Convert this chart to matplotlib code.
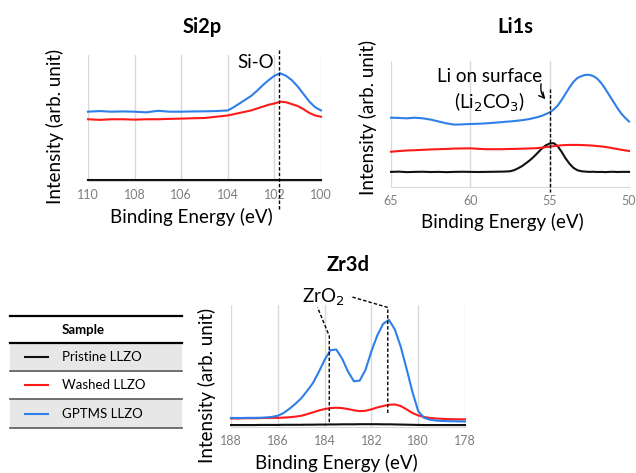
import matplotlib
matplotlib.use('Agg')
import matplotlib.pyplot as plt
from matplotlib.patches import Rectangle

plt.rcParams['font.family'] = ['Lato', 'DejaVu Sans']

samples = ['Pristine LLZO', 'Washed LLZO', 'GPTMS LLZO']
colors = ['#111111', '#ff1a1a', '#2f7fe8']

# Si2p
si_energy = [110, 109.5, 109, 108.5, 108, 107.5, 107, 106.5, 106, 105.5, 105, 104.5,
             104, 103.75, 103.5, 103.25, 103, 102.75, 102.5, 102.25, 102, 101.75, 101.5,
             101.25, 101, 100.75, 100.5, 100.25, 100]
si_pristine = [0.005] * 29
si_washed = [0.49, 0.485, 0.49, 0.49, 0.487, 0.49, 0.49, 0.493, 0.495, 0.498, 0.50, 0.51,
             0.52, 0.53, 0.54, 0.55, 0.56, 0.575, 0.59, 0.605, 0.615, 0.63, 0.625, 0.61,
             0.595, 0.57, 0.54, 0.52, 0.51]
si_gptms = [0.55, 0.555, 0.55, 0.552, 0.55, 0.545, 0.557, 0.55, 0.55, 0.552, 0.553, 0.555,
            0.56, 0.585, 0.615, 0.645, 0.675, 0.715, 0.76, 0.80, 0.835, 0.855, 0.835, 0.80,
            0.75, 0.69, 0.63, 0.585, 0.56]

# Li1s
li_energy = [65, 64.5, 64, 63.5, 63, 62.5, 62, 61.5, 61, 60.5, 60, 59.5, 59, 58.5,
             58, 57.75, 57.5, 57.25, 57, 56.75, 56.5, 56.25, 56, 55.75, 55.5, 55.25, 55,
             54.75, 54.5, 54.25, 54, 53.75, 53.5, 53.25, 53, 52.75, 52.5, 52.25, 52, 51.75,
             51.5, 51.25, 51, 50.75, 50.5, 50.25, 50]
li_pristine = [0.12, 0.122, 0.118, 0.12, 0.121, 0.119, 0.12, 0.118, 0.12, 0.121, 0.12, 0.119,
               0.12, 0.121,
               0.122, 0.123, 0.125, 0.133, 0.148, 0.165, 0.188, 0.212, 0.24, 0.272, 0.305,
               0.33, 0.345, 0.348, 0.325, 0.28, 0.228, 0.185, 0.152, 0.133, 0.125, 0.122,
               0.12, 0.121, 0.119, 0.12, 0.118, 0.12, 0.121, 0.119, 0.12, 0.12, 0.12]
li_washed = [0.28, 0.285, 0.29, 0.292, 0.295, 0.298, 0.30, 0.302, 0.305, 0.306, 0.307, 0.303,
             0.30, 0.30,
             0.30, 0.301, 0.302, 0.302, 0.303, 0.304, 0.305, 0.306, 0.307, 0.309, 0.312,
             0.316, 0.32, 0.324, 0.328, 0.331, 0.333, 0.334, 0.334, 0.334, 0.333, 0.332,
             0.33, 0.328, 0.325, 0.322, 0.318, 0.313, 0.307, 0.302, 0.296, 0.291, 0.286]
li_gptms = [0.55, 0.548, 0.545, 0.55, 0.545, 0.535, 0.52, 0.505, 0.495, 0.497, 0.50, 0.502,
            0.505, 0.51,
            0.515, 0.518, 0.52, 0.523, 0.527, 0.53, 0.535, 0.54, 0.548, 0.555, 0.565, 0.578,
            0.592, 0.615, 0.645, 0.69, 0.74, 0.79, 0.835, 0.865, 0.88, 0.89, 0.89, 0.88,
            0.86, 0.825, 0.78, 0.73, 0.68, 0.63, 0.585, 0.55, 0.52]

# Zr3d
zr_energy = [188, 187.75, 187.5, 187.25, 187, 186.75, 186.5, 186.25, 186, 185.75, 185.5,
             185.25, 185, 184.75, 184.5, 184.25, 184, 183.75, 183.5, 183.25, 183, 182.75,
             182.5, 182.25, 182, 181.75, 181.5, 181.25, 181, 180.75, 180.5, 180.25, 180,
             179.75, 179.5, 179.25, 179, 178.75, 178.5, 178.25, 178]
zr_pristine = [0.016, 0.016, 0.016, 0.016, 0.016, 0.017, 0.017, 0.017, 0.017, 0.018, 0.018,
               0.018, 0.018, 0.019, 0.019, 0.02, 0.02, 0.021, 0.021, 0.022, 0.022, 0.022,
               0.023, 0.023, 0.023, 0.023, 0.022, 0.022, 0.021, 0.02, 0.019, 0.018, 0.017,
               0.016, 0.016, 0.016, 0.016, 0.016, 0.016, 0.016, 0.016]
zr_washed = [0.07, 0.07, 0.071, 0.072, 0.072, 0.073, 0.074, 0.075, 0.075, 0.077, 0.08,
             0.085, 0.092, 0.105, 0.12, 0.135, 0.147, 0.155, 0.158, 0.155, 0.147, 0.137,
             0.13, 0.133, 0.145, 0.16, 0.172, 0.182, 0.185, 0.172, 0.145, 0.115, 0.095,
             0.082, 0.074, 0.07, 0.067, 0.065, 0.064, 0.063, 0.063]
zr_gptms = [0.074, 0.074, 0.074, 0.075, 0.075, 0.076, 0.078, 0.083, 0.092, 0.115, 0.15,
            0.19, 0.235, 0.295, 0.36, 0.45, 0.55, 0.63, 0.635, 0.56, 0.455, 0.375, 0.38,
            0.47, 0.62, 0.75, 0.845, 0.878, 0.80, 0.66, 0.48, 0.29, 0.13, 0.075, 0.06,
            0.053, 0.05, 0.048, 0.047, 0.046, 0.045]

panels = [
    ('Si2p', si_energy, [si_pristine, si_washed, si_gptms], (110, 100), [110, 108, 106, 104, 102, 100]),
    ('Li1s', li_energy, [li_pristine, li_washed, li_gptms], (65, 50), [65, 60, 55, 50]),
    ('Zr3d', zr_energy, [zr_pristine, zr_washed, zr_gptms], (188, 178), [188, 186, 184, 182, 180, 178]),
]

W, H = 636, 473
fig = plt.figure(figsize=(W / 100, H / 100), dpi=100)

# axes boxes in pixels: left, top, right, bottom
boxes = [(88, 55, 321, 181), (391, 61, 629, 187), (231, 305, 465, 427)]
title_xy = [(0.489, 1.222), (0.521, 1.27), (0.5, 1.328)]
xlab_xy = [(0.442, -0.286), (0.47, -0.278), (0.449, -0.295)]
ylab_xy = [(-0.142, 0.43), (-0.097, 0.556), (-0.103, 0.344)]

axes = []
for (name, energy, series, xlim, ticks), (l, t, r, b), txy, xl, yl in zip(
        panels, boxes, title_xy, xlab_xy, ylab_xy):
    ax = fig.add_axes([l / W, 1 - b / H, (r - l) / W, (b - t) / H])
    for vals, c in zip(series, colors):
        ax.plot(energy, vals, color=c, lw=1.5, clip_on=False, zorder=3)
    ax.set_xlim(*xlim)
    ax.set_ylim(0, 1)
    ax.set_xticks(ticks)
    ax.set_yticks([])
    ax.tick_params(axis='x', length=0, pad=6, labelsize=9, labelcolor='#7f7f7f')
    ax.grid(axis='x', color='#d9d9d9', lw=1)
    for s in ['top', 'left', 'right']:
        ax.spines[s].set_visible(False)
    ax.spines['bottom'].set_color('#d9d9d9')
    ax.text(txy[0], txy[1], name, transform=ax.transAxes, ha='center', va='center',
            fontsize=14.5, fontweight='bold')
    ax.set_xlabel('Binding Energy (eV)', fontsize=13.5)
    ax.xaxis.set_label_coords(*xl)
    ax.xaxis.label.set_va('center')
    ax.set_ylabel('Intensity (arb. unit)', fontsize=13.5)
    ax.yaxis.set_label_coords(*yl)
    ax.yaxis.label.set_va('center')
    axes.append(ax)

dash = dict(color='black', lw=1, ls=(0, (2.5, 1.5)), clip_on=False, zorder=4)

# Si2p annotation
ax = axes[0]
ax.plot([101.8, 101.8], [1.04, -0.23], **dash)
ax.text(102.0, 0.94, 'Si-O', ha='right', va='center', fontsize=13.5)

# Li1s annotation
ax = axes[1]
ax.plot([55.0, 55.0], [0.78, -0.04], **dash)
ax.text(58.76, 0.88, 'Li on surface', ha='center', va='center', fontsize=13.5)
ax.text(58.76, 0.675, '(Li$_2$CO$_3$)', ha='center', va='center', fontsize=13.5)
ax.annotate('', xy=(55.15, 0.68), xytext=(55.5, 0.84),
            arrowprops=dict(arrowstyle='->', lw=1, color='black',
                            connectionstyle='arc3,rad=0.3'))

# Zr3d annotation
ax = axes[2]
ax.plot([183.8, 183.8, 184.3], [0.04, 0.746, 0.98], **dash)
ax.plot([181.3, 181.3, 182.9], [0.115, 0.98, 1.07], **dash)
ax.text(184.05, 1.06, 'ZrO$_2$', ha='center', va='center', fontsize=13.5)

# legend table
lax = fig.add_axes([0, 0, 1, 1])
lax.set_xlim(0, W)
lax.set_ylim(H, 0)
lax.axis('off')
lax.patch.set_alpha(0)
row_lines = [316, 343, 371, 399, 428]
for i in range(3):
    y0, y1 = row_lines[i + 1], row_lines[i + 2]
    if i % 2 == 0:
        lax.add_patch(Rectangle((10, y0), 172, y1 - y0, color='#e7e7e7', lw=0))
    ym = (y0 + y1) / 2
    lax.plot([25, 48], [ym, ym], color=colors[i], lw=1.5)
    lax.text(62, ym, samples[i], ha='left', va='center', fontsize=9.5)
lax.text(62, 330, 'Sample', ha='left', va='center', fontsize=9.5, fontweight='bold')
for k, y in enumerate(row_lines):
    c = 'black' if k < 2 else '#595959'
    lax.plot([10, 182], [y, y], color=c, lw=1.6 if k < 2 else 1.2)

fig.savefig('out.png', dpi=100)
